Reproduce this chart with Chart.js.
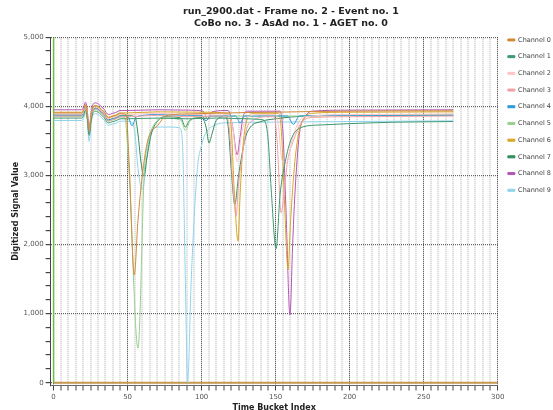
<!DOCTYPE html>
<html>
<head>
<meta charset="utf-8">
<script src="https://cdn.jsdelivr.net/npm/chart.js@4.4.1/dist/chart.umd.min.js"></script>
<style>
	html, body { margin: 0; padding: 0; background: #fff; }
	canvas { display: block; }
</style>
</head>
<body>
<canvas id="chart" width="553" height="410"></canvas>
<script>
const channelNames = ['Channel 0', 'Channel 1', 'Channel 2', 'Channel 3', 'Channel 4',
	'Channel 5', 'Channel 6', 'Channel 7', 'Channel 8', 'Channel 9'];

const channel0 = [[0,3905],[19,3905],[20.5,3955],[21.5,4015],[22.5,3945],[24,3655],[25.5,3885],[27,3995],[28.5,4005],[31,3975],[34,3915],[37,3835],[40,3855],[42,3865],[45,3895],
	[49,3880],[51,3200],[54.5,1560],[57,2350],[60,3010],[63,3450],[66,3640],[70,3715],[75,3850],[80,3880],[90,3890],[110,3900],[130,3910],[150,3915],[175,3925],[200,3930],[235,3935],[270,3935]];
const channel1 = [[0,3830],[19,3830],[20.5,3880],[21.5,3940],[22.5,3870],[24,3580],[25.5,3810],[27,3920],[28.5,3930],[31,3900],[34,3840],[37,3760],[40,3780],[42,3790],[45,3820],
	[50,3820],[70,3830],[90,3820],[110,3830],[130,3820],[140,3810],[143,3770],[145,3500],[147,2800],[150.3,1940],[153,2720],[157,3250],[161,3550],[168,3700],[180,3730],[200,3750],[230,3770],[270,3780]];
const channel2 = [[0,3890],[19,3890],[20.5,3940],[21.5,4000],[22.5,3930],[24,3640],[25.5,3870],[27,3980],[28.5,3990],[31,3960],[34,3900],[37,3820],[40,3840],[42,3850],[45,3880],
	[50,3880],[70,3900],[90,3880],[110,3890],[118,3880],[121,3700],[124,3200],[127,3600],[131,3850],[140,3880],[150,3880],[152,3700],[154,3250],[156,3180],[158,3200],[161,3500],[165,3750],[170,3850],[200,3880],[270,3890]];
const channel3 = [[0,3860],[19,3860],[20.5,3910],[21.5,3970],[22.5,3900],[24,3610],[25.5,3840],[27,3950],[28.5,3960],[31,3930],[34,3870],[37,3790],[40,3810],[42,3820],[45,3850],
	[50,3850],[70,3870],[90,3850],[110,3860],[117,3850],[119,3600],[121,2900],[123.3,2410],[125,2900],[127,3200],[130,3640],[135,3800],[145,3850],[149,3850],[151,3500],[153.7,2460],[156,2800],[158,3200],[162,3500],[167,3750],[175,3840],[200,3850],[270,3860]];
const channel4 = [[0,3870],[19,3870],[20.5,3920],[21.5,3980],[22.5,3910],[24,3620],[25.5,3850],[27,3960],[28.5,3970],[31,3940],[34,3880],[37,3800],[40,3820],[42,3830],[45,3860],
	[50,3860],[53,3720],[56,3850],[70,3880],[90,3870],[100,3870],[103,3790],[106,3860],[123,3860],[126,3760],[129,3860],[158,3860],[162,3740],[166,3860],[200,3870],[270,3870]];
const channel5 = [[0,3855],[19,3855],[20.5,3905],[21.5,3965],[22.5,3895],[24,3605],[25.5,3835],[27,3945],[28.5,3955],[31,3925],[34,3865],[37,3785],[40,3805],[42,3815],[45,3845],
	[48,3840],[51,3050],[57,500],[61.3,3050],[64,3500],[68,3740],[75,3830],[86,3800],[89,3650],[92,3780],[100,3850],[130,3860],[170,3860],[200,3865],[270,3870]];
const channel6 = [[0,3915],[19,3915],[20.5,3965],[21.5,4025],[22.5,3955],[24,3665],[25.5,3895],[27,4005],[28.5,4015],[31,3985],[34,3925],[37,3845],[40,3865],[42,3875],[45,3905],
	[50,3905],[70,3920],[100,3915],[118,3900],[120,3700],[122,2800],[124.6,2050],[126,2720],[128,3440],[131.5,3850],[135,3900],[152,3900],[154,3600],[156,2600],[158.4,1640],[160,2300],[163,3200],[166,3650],[170,3850],[175,3900],[200,3915],[270,3920]];
const channel7 = [[0,3875],[19,3875],[20.5,3925],[21.5,3985],[22.5,3915],[24,3625],[25.5,3855],[27,3965],[28.5,3975],[31,3945],[34,3885],[37,3805],[40,3825],[42,3835],[45,3865],
	[50,3865],[55,3850],[57,3600],[59,3200],[61,2990],[63,3250],[66,3600],[70,3780],[75,3850],[86,3830],[89,3700],[92,3800],[100,3840],[103,3700],[105,3470],[107,3600],[110,3800],[116,3850],[118,3700],[120,3100],[122.4,2580],[125,3000],[129.5,3540],[133,3700],[140,3780],[150,3820],[170,3860],[200,3870],[270,3875]];
const channel8 = [[0,3950],[19,3950],[20.5,4000],[21.5,4060],[22.5,3990],[24,3700],[25.5,3930],[27,4040],[28.5,4050],[31,4020],[34,3960],[37,3880],[40,3900],[42,3910],[45,3940],
	[50,3940],[70,3950],[90,3945],[101,3930],[104,3810],[107,3920],[118,3940],[121,3700],[124,3300],[126,3550],[128,3850],[131,3930],[153,3930],[155,3600],[157,2500],[159.7,980],[161.5,2000],[163,2720],[166,3590],[170,3850],[175,3930],[200,3945],[270,3950]];
const channel9 = [[0,3795],[19,3795],[20.5,3845],[21.5,3905],[22.5,3835],[24,3495],[25.5,3775],[27,3885],[28.5,3895],[31,3865],[34,3805],[37,3725],[40,3745],[42,3755],[45,3785],
	[50,3785],[52,3780],[55,3600],[57,3100],[60,2790],[62,3050],[64,3450],[67,3650],[70,3700],[80,3700],[85,3690],[87,3500],[89,1500],[90.5,0],[93,1500],[97,3070],[100,3440],[103,3620],[108,3720],[115,3760],[140,3770],[200,3780],[270,3790]];

// the two unlabelled traces hugging the axes
const zeroColumn = [[0,0],[0,5000]];
const zeroRow = [[0,0],[300,0]];

const channelData = [channel0, channel1, channel2, channel3, channel4,
	channel5, channel6, channel7, channel8, channel9];

const channelColors = ['#d08a38', '#3d9970', '#ffc4c8', '#f2a0a6', '#2b9ad6',
	'#98d08e', '#d9a520', '#2e8b57', '#b455b4', '#8fd3ec'];

const FONT = 'DejaVu Sans';

function toPoints(pairs) {
	return pairs.map(p => ({ x: p[0], y: p[1] }));
}

function steps(from, to, step) {
	const out = [];
	for (let v = from; v <= to; v += step)
		out.push({ value: v });
	return out;
}

const datasets = channelData.map((pairs, i) => ({
	label: channelNames[i],
	data: toPoints(pairs),
	borderColor: channelColors[i],
	backgroundColor: channelColors[i],
	borderWidth: 1,
	pointRadius: 0,
	cubicInterpolationMode: 'monotone'
}));

datasets.push({
	label: 'zero column',
	data: toPoints(zeroColumn),
	borderColor: '#6abf40',
	borderWidth: 1.5,
	pointRadius: 0
});
datasets.push({
	label: 'zero row',
	data: toPoints(zeroRow),
	borderColor: '#c89a50',
	borderWidth: 2,
	pointRadius: 0
});

new Chart(document.getElementById('chart'), {
	type: 'line',
	data: { datasets: datasets },
	options: {
		responsive: false,
		animation: false,
		devicePixelRatio: 1,
		layout: { padding: { top: 5, left: 11, right: -8, bottom: -2.5 } },
		plugins: {
			title: {
				display: true,
				text: ['   run_2900.dat - Frame no. 2 - Event no. 1', '   CoBo no. 3 - AsAd no. 1 - AGET no. 0'],
				font: { family: FONT, size: 9.5, weight: 'bold', lineHeight: 1.26 },
				color: '#222',
				padding: { top: 1, bottom: 7.3 }
			},
			legend: {
				position: 'right',
				align: 'start',
				title: {
					display: true,
					text: ' ',
					font: { family: FONT, size: 10, lineHeight: 1.2 },
					padding: { top: 9.5, bottom: 0 }
				},
				labels: {
					filter: item => item.datasetIndex < 10,
					boxWidth: 7,
					boxHeight: 2,
					padding: 10.2,
					color: '#444',
					font: { family: FONT, size: 6.5 }
				}
			},
			tooltip: { enabled: false }
		},
		scales: {
			x: {
				type: 'linear',
				min: -2,
				max: 300,
				afterBuildTicks: scale => { scale.ticks = steps(0, 300, 5); },
				title: {
					display: true,
					text: 'Time Bucket Index',
					font: { family: FONT, size: 8, weight: 'bold', lineHeight: 1.2 },
					color: '#222',
					padding: { top: 0, bottom: 0 }
				},
				ticks: {
					autoSkip: false,
					maxRotation: 0,
					padding: 2,
					color: '#555',
					font: { family: FONT, size: 7 },
					callback: v => (v % 50 === 0 ? String(v) : '')
				},
				grid: {
					color: ctx => (ctx.tick && ctx.tick.value % 50 === 0 ? 'rgba(0,0,0,0.8)' : 'rgba(0,0,0,0.17)'),
					lineWidth: ctx => (ctx.tick && ctx.tick.value % 50 === 0 ? 1 : 2),
					tickColor: '#444',
					tickWidth: 1,
					tickLength: 5
				},
				border: { color: '#666', width: 1, dash: [1, 1] }
			},
			y: {
				type: 'linear',
				min: -40,
				max: 5000,
				afterBuildTicks: scale => { scale.ticks = steps(0, 5000, 200); },
				title: {
					display: true,
					text: 'Digitized Signal Value',
					font: { family: FONT, size: 8, weight: 'bold', lineHeight: 1.2 },
					color: '#222',
					padding: { top: 0, bottom: 1 }
				},
				ticks: {
					autoSkip: false,
					padding: 2,
					color: '#555',
					font: { family: FONT, size: 7 },
					callback: v => (v % 1000 === 0 ? v.toLocaleString('en-US') : '')
				},
				grid: {
					color: ctx => (ctx.tick && ctx.tick.value % 1000 === 0 ? 'rgba(0,0,0,0.6)' : 'rgba(0,0,0,0)'),
					lineWidth: 1.2,
					tickColor: '#444',
					tickLength: 5
				},
				border: { color: '#444', width: 1, dash: [1, 1] }
			}
		}
	}
});
</script>
</body>
</html>
